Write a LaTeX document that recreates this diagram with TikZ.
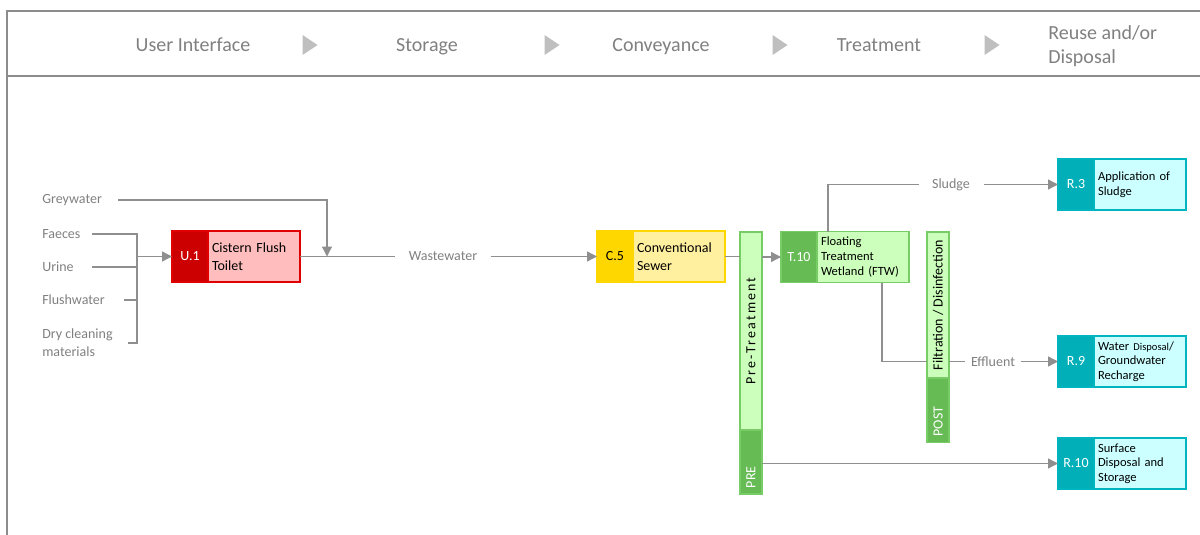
\documentclass[tikz,border=0pt]{standalone}
\usepackage{fontspec}
\setmainfont{Carlito}
\usetikzlibrary{arrows.meta,positioning}
\tikzset{>={Triangle[length=7.5pt,width=7.5pt]}}
\definecolor{framegray}{HTML}{8C8C8C}
\definecolor{flowgray}{HTML}{8F8F8F}
\definecolor{labelgray}{HTML}{808080}
\definecolor{stepgray}{HTML}{BFBFBF}
\definecolor{udark}{HTML}{CC0000}
\definecolor{ulight}{HTML}{FFBDBD}
\definecolor{uline}{HTML}{E00000}
\definecolor{cdark}{HTML}{FFD700}
\definecolor{clight}{HTML}{FFF0A0}
\definecolor{tdark}{HTML}{66BB55}
\definecolor{tlight}{HTML}{CCFFBB}
\definecolor{tline}{HTML}{77CC66}
\definecolor{rdark}{HTML}{00AFB8}
\definecolor{rlight}{HTML}{CCFFFF}
\definecolor{rline}{HTML}{00B4C0}
\tikzset{
  flow/.style={draw=flowgray,line width=1pt},
  tag/.style={text=labelgray,font=\fontsize{10.5}{13.5}\selectfont,
    inner xsep=10pt,inner ysep=0pt},
  src/.style={tag,anchor=west,inner sep=0pt,align=left},
  phase/.style={text=labelgray,font=\fontsize{15}{18}\selectfont,
    text height=0.72em,text depth=0.22em},
  code/.style={minimum width=27pt,minimum height=38.25pt,inner sep=0pt,
    outer sep=0pt,line width=1.1pt,font=\fontsize{10.5}{12}\selectfont},
  desc/.style={minimum height=38.25pt,text width=63pt,inner xsep=3pt,
    inner ysep=0pt,outer sep=0pt,align=left,line width=1.1pt,
    font=\fontsize{9.4}{10.9}\selectfont},
  bigdesc/.style={desc,font=\fontsize{10.5}{13.5}\selectfont},
  bar/.style={rotate=90,minimum height=16.5pt,inner ysep=0pt,outer sep=0pt,
    line width=1.1pt,font=\fontsize{10.5}{12}\selectfont},
  lowbar/.style={bar,text=white,align=left,inner xsep=4.5pt,text width=39pt},
  steptip/.pic={
    \fill[stepgray] (-7.5,-10) -- (7.5,0) -- (-7.5,10) -- cycle;
  }
}

\begin{document}
\begin{tikzpicture}[x=0.75pt,y=-0.75pt]
  \useasboundingbox (0,0) rectangle (1200,535);
  % header
  \draw[framegray,line width=1.1pt] (1200,11) -- (7,11) -- (7,535);
  \draw[framegray,line width=1.1pt] (7,76) -- (1200,76);
  \node[phase] (ui) at (193,48) {User Interface};
  \node[phase] (st) at (427,48) {Storage};
  \node[phase] (cv) at (661,48) {Conveyance};
  \node[phase] (tr) at (879,48) {Treatment};
  \node[phase,anchor=west,align=left,inner sep=0pt,text height=,text depth=] (rd)
    at (1048,46) {Reuse and/or\\Disposal};
  \foreach \x in {310,552,780,992}
    \pic at (\x,45) {steptip};

  % products
  \node[src] (grey) at (42,200) {Greywater};
  \node[src] (faec) at (42,234) {Faeces};
  \node[src] (urin) at (42,267) {Urine};
  \node[src] (flsh) at (42,300) {Flushwater};
  \node[src] (dryc) at (42,343) {Dry cleaning\\materials};

  % technologies
  \node[code,fill=udark,draw=uline,text=white] (u1) at (190,256.5) {U.1};
  \node[bigdesc,fill=ulight,draw=uline,right=0pt of u1] (u1txt) {Cistern Flush\\Toilet};
  \node[code,fill=cdark,draw=cdark] (c5) at (615,256.5) {C.5};
  \node[bigdesc,fill=clight,draw=cdark,right=0pt of c5] (c5txt) {Conventional\\Sewer};
  \node[code,fill=tdark,draw=tline,text=white] (t10) at (799,257) {T.10};
  \node[desc,fill=tlight,draw=tline,right=0pt of t10] (t10txt) {Floating\\Treatment\\Wetland (FTW)};
  \node[code,fill=rdark,draw=rline,text=white] (r3) at (1076,184.5) {R.3};
  \node[desc,fill=rlight,draw=rline,right=0pt of r3] (r3txt) {Application of\\Sludge};
  \node[code,fill=rdark,draw=rline,text=white] (r9) at (1076,361.5) {R.9};
  \node[desc,fill=rlight,draw=rline,right=0pt of r9] (r9txt)
    {Water {\fontsize{7.9}{10.9}\selectfont Disposal}/\\Groundwater\\Recharge};
  \node[code,fill=rdark,draw=rline,text=white] (r10) at (1076,463.5) {R.10};
  \node[desc,fill=rlight,draw=rline,right=0pt of r10] (r10txt) {Surface\\Disposal and\\Storage};

  \node[bar,fill=tlight,draw=tline,minimum width=148.5pt] (pre) at (751,331)
    {\addfontfeature{LetterSpace=15}Pre-Treatment};
  \node[lowbar,fill=tdark,draw=tline] (prelow) at (751,462) {PRE};
  \node[bar,fill=tlight,draw=tline,minimum width=109.5pt] (filt) at (938,305)
    {Filtration / Disinfection};
  \node[lowbar,fill=tdark,draw=tline] (post) at (938,410.5) {POST};

  % flows
  \coordinate (fa) at (92,234);
  \coordinate (fl) at (124,300);
  \coordinate (dr) at (128,343);
  \coordinate (brtop) at (137,234);
  \coordinate (brbot) at (137,343);
  \draw[flow] (fa) -- (brtop) -- (brbot) -- (dr);
  \draw[flow] (fa |- urin.east) -- (brtop |- urin.east);
  \draw[flow] (fl) -- (brtop |- fl);
  \draw[flow,->] (brtop |- u1.west) -- (u1.west);

  \coordinate (jn) at (327,256.5);
  \node[tag] (ww) at (443,256.5) {Wastewater};
  \draw[flow] (u1txt.east) -- (ww.west);
  \draw[flow,->] ([xshift=12pt]grey.east) -| (jn);
  \draw[flow,->] (ww.east) -- (c5.west);
  \draw[flow] (c5txt.east) -- (c5txt.east -| pre.north);
  \draw[flow,->] (pre.south |- t10.west) -- (t10.west);

  \coordinate (sl) at ([xshift=8.25pt]t10txt.north west);
  \node[tag] (sludge) at (951,184.5) {Sludge};
  \draw[flow] (sl) |- (sludge.west);
  \draw[flow,->] (sludge.east) -- (r3.west);

  \coordinate (ef) at ([xshift=48.75pt]t10txt.south west);
  \node[tag,inner xsep=4pt] (effl) at (993,361.5) {Effluent};
  \draw[flow] (ef) |- (r9.west -| filt.north);
  \draw[flow] (r9.west -| filt.south) -- (effl.west);
  \draw[flow,->] (effl.east) -- (r9.west);
  \draw[flow,->] (prelow.south |- r10.west) -- (r10.west);
\end{tikzpicture}
\end{document}
